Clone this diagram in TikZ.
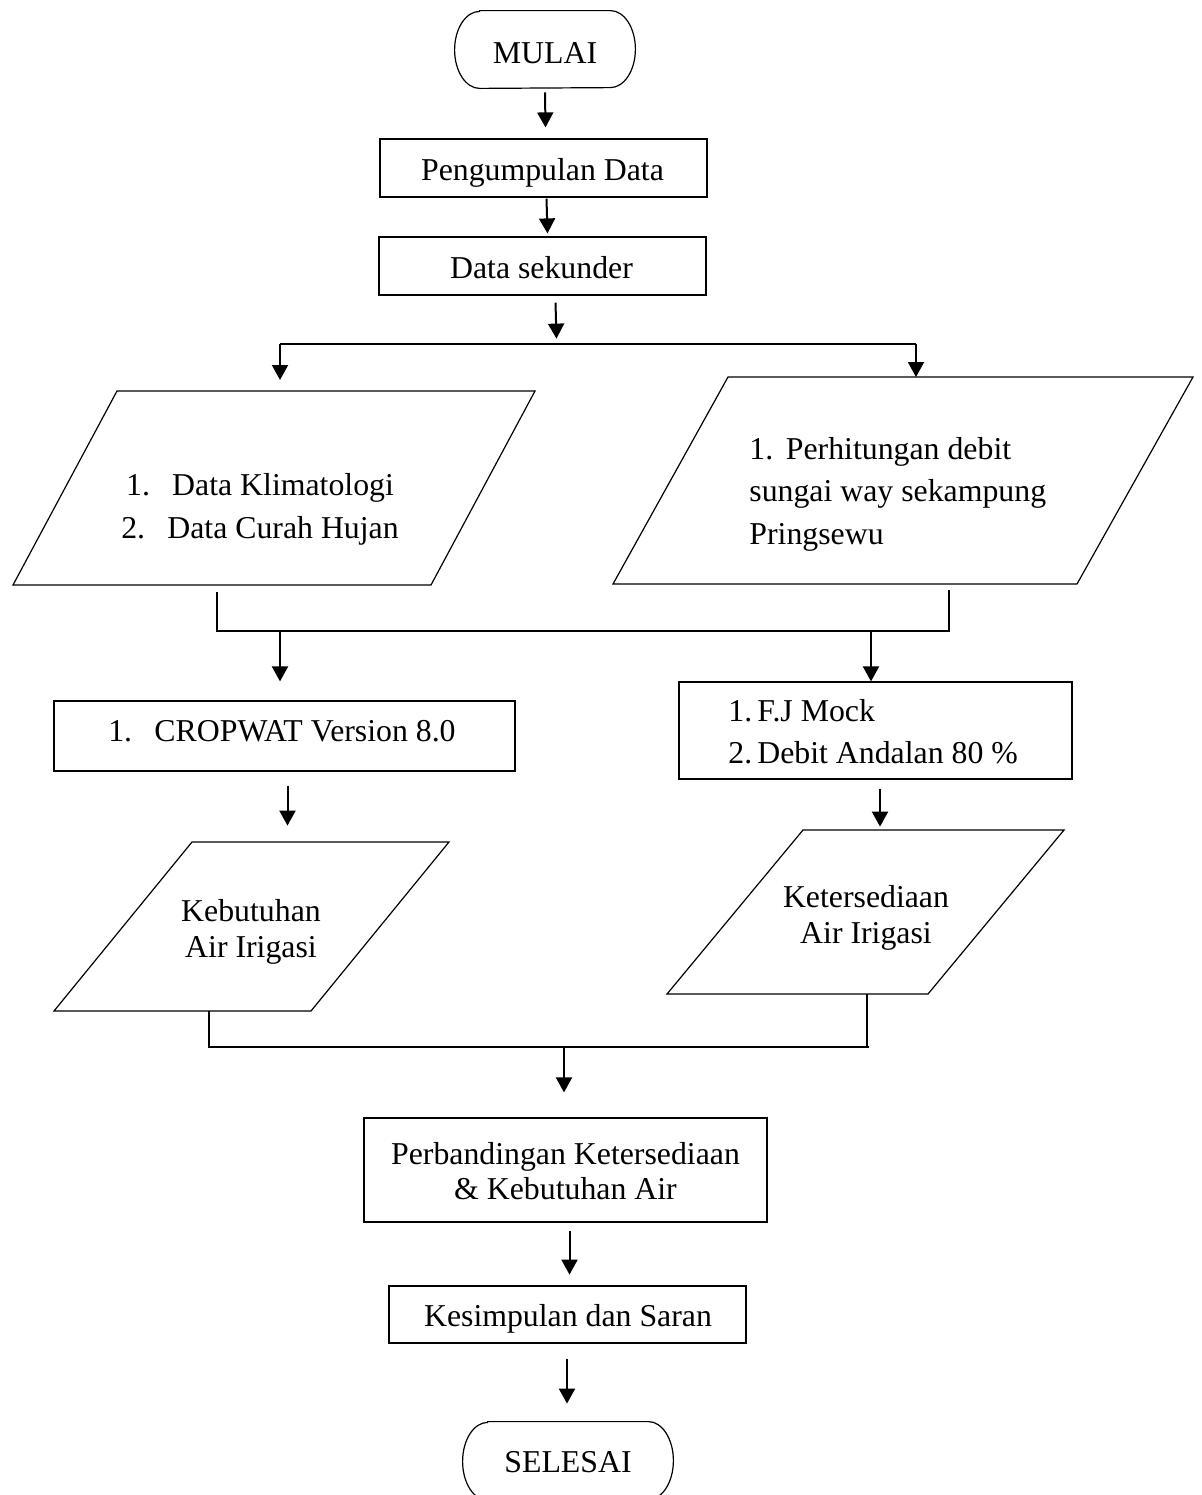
\documentclass[tikz,border=0pt]{standalone}
\usepackage{fontspec}
\setmainfont{Liberation Serif}
\usetikzlibrary{arrows.meta,calc,fit}
\begin{document}
\begin{tikzpicture}[x=0.5pt,y=-0.5pt,
  shp/.style={draw=black, line width=0.6pt},
  rbox/.style={shp, rectangle, inner sep=0pt},
  holder/.style={inner sep=0pt},
  txt/.style={font=\fontsize{15.9}{21}\selectfont, inner sep=0pt, anchor=base},
  con/.style={draw=black, line width=1pt},
  arr/.style={con, -{Triangle[length=7.5pt,width=8pt]}},
]
\useasboundingbox (0,0) rectangle (1201,1495);

% ---- MULAI
\node[holder, fit={(455,11)(635,88)}] (mulai) {};
\draw[shp] ($(mulai.north west)+(25,0)$) -- ($(mulai.north east)+(-25,0)$)
  arc[start angle=90,end angle=-90,x radius=12.5pt,y radius=19.25pt]
  -- ($(mulai.south west)+(25,0)$)
  arc[start angle=270,end angle=90,x radius=12.5pt,y radius=19.25pt] -- cycle;
\node[txt] (mulaiT) at (545,63) {MULAI};

% ---- boxes
\node[rbox, fit={(380,139)(707,197)}] (peng) {};
\node[txt] (pengT) at (542.5,180) {Pengumpulan Data};
\node[rbox, fit={(379,237)(706,295)}] (ds) {};
\node[txt] (dsT) at (541.5,278) {Data sekunder};

% ---- left parallelogram
\draw[shp] (117,391) coordinate (p1tl) -- (535,391) coordinate (p1tr)
  -- (431,585) coordinate (p1br) -- (13,585) coordinate (p1bl) -- cycle;
\node[txt, font=\fontsize{15.9}{21.5}\selectfont] (p1T) at (260,495)
  {\begin{tabular}[t]{@{}c@{}}1.\hspace{0.7em}Data Klimatologi\\2.\hspace{0.7em}Data Curah Hujan\end{tabular}};

% ---- right parallelogram
\draw[shp] (728,377) coordinate (p2tl) -- (1193,377) coordinate (p2tr)
  -- (1077,584) coordinate (p2br) -- (613,584) coordinate (p2bl) -- cycle;
\node[txt, anchor=base west, font=\fontsize{15.9}{21.25}\selectfont] (p2T) at (749,459)
  {\begin{tabular}[t]{@{}l@{}}1.\hspace{0.4em}Perhitungan debit\\sungai way sekampung\\Pringsewu\end{tabular}};

% ---- CROPWAT and FJ Mock
\node[rbox, fit={(54,701)(515,771)}] (crop) {};
\node[txt] (cropT) at (282,741) {1.\hspace{0.7em}CROPWAT Version 8.0};
\node[rbox, fit={(679,682)(1072,779)}] (fj) {};
\node[txt, anchor=base west, font=\fontsize{15.9}{21}\selectfont] (fjT) at (728,721)
  {\begin{tabular}[t]{@{}l@{}}\makebox[14.5pt][l]{1.}F.J Mock\\\makebox[14.5pt][l]{2.}Debit Andalan 80 \%\end{tabular}};

% ---- Kebutuhan / Ketersediaan
\draw[shp] (192,842) coordinate (ktl) -- (449,842) -- (311,1011) coordinate (kbr)
  -- (54,1011) coordinate (kbl) -- cycle;
\node[txt, font=\fontsize{15.9}{18}\selectfont] (kebT) at (251,921)
  {\begin{tabular}[t]{@{}c@{}}Kebutuhan\\Air Irigasi\end{tabular}};
\draw[shp] (803,830) coordinate (kttl) -- (1064,830) -- (928,994) coordinate (ktbr)
  -- (667,994) coordinate (ktbl) -- cycle;
\node[txt, font=\fontsize{15.9}{18}\selectfont] (ketT) at (866,907)
  {\begin{tabular}[t]{@{}c@{}}Ketersediaan\\Air Irigasi\end{tabular}};

% ---- lower boxes
\node[rbox, fit={(364,1118)(767,1222)}] (perb) {};
\node[txt, font=\fontsize{15.9}{17.5}\selectfont] (perbT) at (565.5,1164)
  {\begin{tabular}[t]{@{}c@{}}Perbandingan Ketersediaan\\\& Kebutuhan Air\end{tabular}};
\node[rbox, fit={(389,1286)(746,1343)}] (kes) {};
\node[txt] (kesT) at (568,1326) {Kesimpulan dan Saran};

% ---- SELESAI
\node[holder, fit={(463,1422)(673,1500)}] (selesai) {};
\draw[shp] ($(selesai.north west)+(25,0)$) -- ($(selesai.north east)+(-25,0)$)
  arc[start angle=90,end angle=-90,x radius=12.5pt,y radius=19.5pt]
  -- ($(selesai.south west)+(25,0)$)
  arc[start angle=270,end angle=90,x radius=12.5pt,y radius=19.5pt] -- cycle;
\node[txt] (selesaiT) at (568,1472) {SELESAI};

% ---- connectors
\draw[arr] ($(mulai.south)+(0,4)$) -- ($(peng.north)+(2,-11)$);
\draw[arr] ($(peng.south)+(3,1)$) -- ($(ds.north)+(5,-3)$);
\draw[arr] ($(ds.south)+(13,7)$) -- ($(ds.south)+(14,43)$);

\coordinate (busL) at (280,344);
\coordinate (busR) at (916,344);
\draw[con] (busL) -- (busR);
\draw[arr, shorten >=5.5pt] (busL) -- (busL |- p1tl);
\draw[arr] (busR) -- (busR |- p2tl);

\coordinate (j1L) at (217,631);
\coordinate (j1R) at (949,631);
\draw[con] ($(j1L |- p1bl)+(0,7)$) -- (j1L) -- (j1R) -- ($(j1R |- p2bl)+(0,6)$);
\coordinate (a4s) at (280,631);
\coordinate (a5s) at (871,631);
\draw[arr, shorten >=9.5pt] (a4s) -- (a4s |- crop.north);
\draw[arr] (a5s) -- (a5s |- fj.north);

\draw[arr] ($(crop.south)+(3,14)$) -- ($(crop.south)+(3,54)$);
\draw[arr] ($(fj.south)+(4.5,9)$) -- ($(fj.south)+(4.5,47)$);

\coordinate (j2L) at (209,1047);
\coordinate (j2R) at (867,1047);
\draw[con] (j2L |- kbl) -- (j2L) -- ($(j2R)+(2,0)$);
\draw[con] (j2R |- ktbl) -- (j2R);
\coordinate (a6s) at (564,1047);
\draw[arr, shorten >=12.5pt] (a6s) -- (a6s |- perb.north);

\draw[arr] ($(perb.south)+(4,8)$) -- ($(perb.south)+(4,52)$);
\draw[arr] ($(kes.south)+(-0.5,15)$) -- ($(kes.south)+(-0.5,60)$);
\end{tikzpicture}
\end{document}
